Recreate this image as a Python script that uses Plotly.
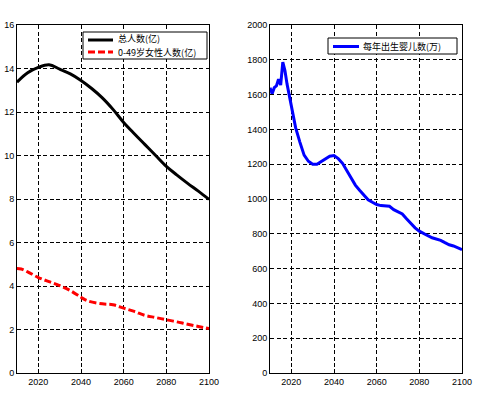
import plotly.graph_objects as go

# ---- data ----
years_pop = [2010, 2015, 2020, 2025, 2030, 2035, 2040, 2045, 2050, 2055, 2060, 2065, 2070, 2075,
             2080, 2085, 2090, 2095, 2100]
total_pop = [13.37, 13.80, 14.05, 14.17, 13.97, 13.75, 13.45, 13.08, 12.65, 12.12, 11.52, 11.00,
             10.50, 10.00, 9.50, 9.10, 8.72, 8.36, 7.98]
female_pop_years = [2010, 2012, 2015, 2020, 2025, 2030, 2035, 2040, 2043, 2050, 2055, 2060, 2065,
                    2070, 2075, 2080, 2085, 2090, 2095, 2100]
female_pop = [4.80, 4.78, 4.65, 4.39, 4.20, 4.02, 3.79, 3.48, 3.32, 3.18, 3.14, 2.98, 2.83,
              2.65, 2.55, 2.45, 2.35, 2.24, 2.14, 2.04]

birth_years = [2010, 2011, 2012, 2013, 2014, 2015, 2016, 2017, 2018, 2019, 2020, 2022, 2024, 2026,
               2028, 2030, 2032, 2034, 2036, 2038, 2040, 2042, 2044, 2046, 2048, 2050, 2052,
               2054, 2056, 2058, 2060, 2062, 2064, 2066, 2068, 2070, 2072, 2074, 2076, 2078,
               2080, 2082, 2084, 2086, 2088, 2090, 2092, 2094, 2096, 2098, 2100]
births = [1640, 1605, 1640, 1650, 1688, 1655, 1786, 1738, 1660, 1600, 1523, 1410, 1327, 1252,
          1217, 1200, 1200, 1215, 1232, 1246, 1250, 1232, 1205, 1165, 1128, 1080, 1050,
          1025, 995, 981, 968, 962, 962, 958, 939, 928, 914, 886, 857, 834,
          815, 800, 789, 777, 770, 762, 749, 737, 730, 720, 709]

x_ticks = [2020, 2040, 2060, 2080, 2100]
left_y_ticks = [0, 2, 4, 6, 8, 10, 12, 14, 16]
right_y_ticks = [0, 200, 400, 600, 800, 1000, 1200, 1400, 1600, 1800, 2000]

name_total = "总人数(亿)"
name_female = "0-49岁女性人数(亿)"
name_births = "每年出生婴儿数(万)"

W, H = 478, 394


def px(x):
    return x / W


def py(y):
    return 1 - y / H


fig = go.Figure()
fig.add_trace(go.Scatter(x=years_pop, y=total_pop, mode="lines", name=name_total,
                         line=dict(color="black", width=3, shape="spline"),
                         xaxis="x", yaxis="y"))
fig.add_trace(go.Scatter(x=female_pop_years, y=female_pop, mode="lines", name=name_female,
                         line=dict(color="red", width=3, dash="7px,3px", shape="spline"),
                         xaxis="x", yaxis="y"))
fig.add_trace(go.Scatter(x=birth_years, y=births, mode="lines", name=name_births,
                         line=dict(color="blue", width=3),
                         xaxis="x2", yaxis="y2"))

tickfont = dict(family="Liberation Sans, Arial, sans-serif", size=9, color="black")
common_axis = dict(showline=True, linecolor="black", linewidth=1, mirror=True,
                   showgrid=True, gridcolor="black", gridwidth=1, griddash="4px,2.5px",
                   ticks="inside", ticklen=4, tickcolor="black", zeroline=False,
                   automargin=False, tickfont=tickfont)

y0 = py(373)
y1 = py(25)

# ---- manual MATLAB-style legends (layout decoration) ----
shapes = []
annotations = []
legend_font = dict(family="Noto Sans CJK SC, sans-serif", size=9, color="black")


def add_legend(box, line_x, rows, text_rows, text_x, traces):
    bx0, by0, bx1, by1 = box
    shapes.append(dict(type="rect", xref="paper", yref="paper",
                       x0=px(bx0), x1=px(bx1), y0=py(by1), y1=py(by0),
                       fillcolor="white", line=dict(color="black", width=1), layer="above"))
    for ly, ty, trace in zip(rows, text_rows, traces):
        shapes.append(dict(type="line", xref="paper", yref="paper",
                           x0=px(line_x[0]), x1=px(line_x[1]), y0=py(ly), y1=py(ly),
                           line=dict(color=trace.line.color, width=3,
                                     dash=trace.line.dash if trace.line.dash else "solid"),
                           layer="above"))
        annotations.append(dict(xref="paper", yref="paper", x=px(text_x), y=py(ty),
                                xanchor="left", yanchor="middle", showarrow=False,
                                text=trace.name, font=legend_font, borderpad=0))


add_legend((83, 32, 207, 59), (88, 113), [40, 52], [38.9, 52.4], 117,
           [fig.data[0], fig.data[1]])
add_legend((328, 38, 457, 54), (333, 359), [46.5], [46.5], 362, [fig.data[2]])

fig.update_layout(
    width=W, height=H,
    margin=dict(l=0, r=0, t=0, b=0),
    paper_bgcolor="white", plot_bgcolor="white",
    showlegend=False,
    xaxis=dict(domain=[px(17), px(209)], range=[2010, 2100], tickvals=x_ticks,
               anchor="y", **common_axis),
    yaxis=dict(domain=[y0, y1], range=[0, 16], tickvals=left_y_ticks,
               anchor="x", **common_axis),
    xaxis2=dict(domain=[px(270), px(462)], range=[2010, 2100], tickvals=x_ticks,
                anchor="y2", **common_axis),
    yaxis2=dict(domain=[y0, y1], range=[0, 2000], tickvals=right_y_ticks,
                anchor="x2", **common_axis),
    shapes=shapes,
    annotations=annotations,
)

fig.write_html("out.html", config={"displayModeBar": False},
               post_script="document.body.style.margin='0';")
